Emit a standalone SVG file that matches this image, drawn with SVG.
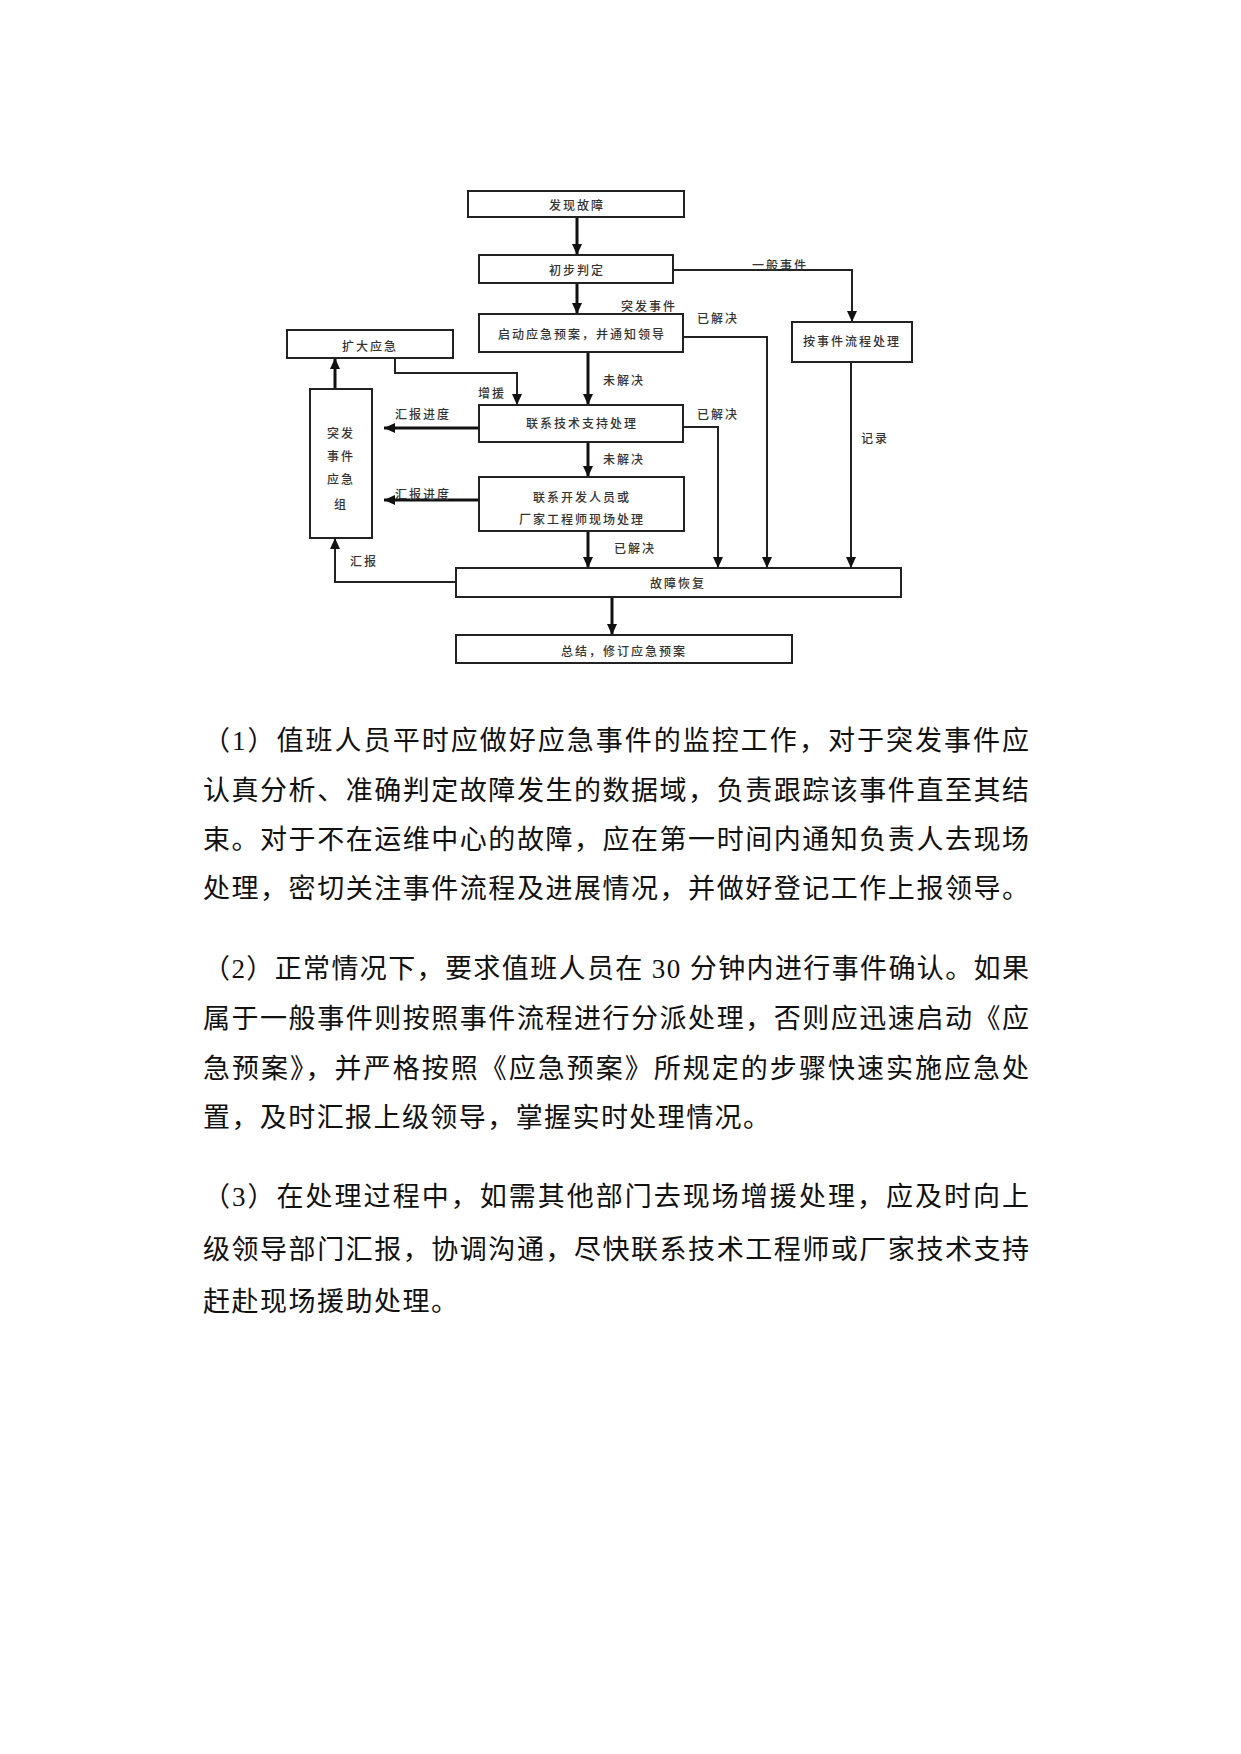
<svg xmlns="http://www.w3.org/2000/svg" width="1241" height="1754" viewBox="0 0 1241 1754">
<style>
.box{fill:#fff;stroke:#222;stroke-width:2}
.lbl{font-family:"Noto Sans CJK SC","Liberation Sans",sans-serif;font-size:12px;font-weight:500;fill:#333;text-anchor:middle;dominant-baseline:central;letter-spacing:2px}
.ar{fill:none;stroke:#111;stroke-width:3}
.ln{fill:none;stroke:#222;stroke-width:2}
.body{font-family:"Liberation Serif","Noto Sans CJK SC",serif;font-size:27px;fill:#111}
</style>
<defs>
<marker id="ah" markerUnits="userSpaceOnUse" markerWidth="12" markerHeight="12" viewBox="0 0 12 12" refX="11" refY="6" orient="auto">
<path d="M0,1 L11,6 L0,11 Z" fill="#111"/>
</marker>
</defs>
<rect width="1241" height="1754" fill="#fff"/>
<g id="connectors">
<path class="ar" d="M577,217 V255" marker-end="url(#ah)"/>
<path class="ar" d="M577,283 V314" marker-end="url(#ah)"/>
<path class="ln" d="M673,270 H852 V322" marker-end="url(#ah)"/>
<path class="ln" d="M683,337 H767 V568" marker-end="url(#ah)"/>
<path class="ar" d="M588,352 V405" marker-end="url(#ah)"/>
<path class="ln" d="M395,358 V373 H517 V405" marker-end="url(#ah)"/>
<path class="ar" d="M479,428 H384" marker-end="url(#ah)"/>
<path class="ln" d="M683,427 H718 V568" marker-end="url(#ah)"/>
<path class="ar" d="M588,442 V477" marker-end="url(#ah)"/>
<path class="ar" d="M479,500 H384" marker-end="url(#ah)"/>
<path class="ar" d="M588,531 V568" marker-end="url(#ah)"/>
<path class="ln" d="M851,362 V568" marker-end="url(#ah)"/>
<path class="ln" d="M456,582 H335 V538" marker-end="url(#ah)"/>
<path class="ar" d="M335,389 V358" marker-end="url(#ah)"/>
<path class="ar" d="M612,597 V635" marker-end="url(#ah)"/>
</g>
<g id="edge-labels">
<text class="lbl" x="649" y="305">突发事件</text>
<text class="lbl" x="780" y="264">一般事件</text>
<text class="lbl" x="718" y="317">已解决</text>
<text class="lbl" x="624" y="379">未解决</text>
<text class="lbl" x="492" y="392">增援</text>
<text class="lbl" x="423" y="413">汇报进度</text>
<text class="lbl" x="718" y="413">已解决</text>
<text class="lbl" x="624" y="458">未解决</text>
<text class="lbl" x="423" y="493">汇报进度</text>
<text class="lbl" x="635" y="547">已解决</text>
<text class="lbl" x="364" y="560">汇报</text>
<text class="lbl" x="875" y="437">记录</text>
</g>
<g id="n-faxian"><rect class="box" x="468" y="191" width="216" height="26"/><text class="lbl" x="577" y="204">发现故障</text></g>
<g id="n-chubu"><rect class="box" x="479" y="255" width="194" height="28"/><text class="lbl" x="577" y="269">初步判定</text></g>
<g id="n-qidong"><rect class="box" x="479" y="314" width="204" height="38"/><text class="lbl" x="582" y="333">启动应急预案，并通知领导</text></g>
<g id="n-kuoda"><rect class="box" x="287" y="330" width="166" height="28"/><text class="lbl" x="370" y="345">扩大应急</text></g>
<g id="n-anshijian"><rect class="box" x="792" y="322" width="120" height="40"/><text class="lbl" x="852" y="340">按事件流程处理</text></g>
<g id="n-yingjizu"><rect class="box" x="310" y="389" width="62" height="149"/>
<text class="lbl" x="341" y="432">突发</text><text class="lbl" x="341" y="455">事件</text><text class="lbl" x="341" y="478">应急</text><text class="lbl" x="341" y="503">组</text></g>
<g id="n-jishu"><rect class="box" x="479" y="405" width="204" height="37"/><text class="lbl" x="582" y="422">联系技术支持处理</text></g>
<g id="n-kaifa"><rect class="box" x="479" y="477" width="205" height="54"/><text class="lbl" x="582" y="496">联系开发人员或</text><text class="lbl" x="582" y="518">厂家工程师现场处理</text></g>
<g id="n-huifu"><rect class="box" x="456" y="568" width="445" height="29"/><text class="lbl" x="678" y="582">故障恢复</text></g>
<g id="n-zongjie"><rect class="box" x="456" y="635" width="336" height="28"/><text class="lbl" x="624" y="650">总结，修订应急预案</text></g>
<g id="body-text">
<text class="body" x="203" y="750" textLength="826" lengthAdjust="spacing">（1）值班人员平时应做好应急事件的监控工作，对于突发事件应</text>
<text class="body" x="203" y="800" textLength="826" lengthAdjust="spacing">认真分析、准确判定故障发生的数据域，负责跟踪该事件直至其结</text>
<text class="body" x="203" y="849" textLength="826" lengthAdjust="spacing">束。对于不在运维中心的故障，应在第一时间内通知负责人去现场</text>
<text class="body" x="203" y="898" textLength="826" lengthAdjust="spacing">处理，密切关注事件流程及进展情况，并做好登记工作上报领导。</text>
<text class="body" x="203" y="978" textLength="826" lengthAdjust="spacing">（2）正常情况下，要求值班人员在 30 分钟内进行事件确认。如果</text>
<text class="body" x="203" y="1028" textLength="826" lengthAdjust="spacing">属于一般事件则按照事件流程进行分派处理，否则应迅速启动《应</text>
<text class="body" x="203" y="1078" textLength="826" lengthAdjust="spacing">急预案》，并严格按照《应急预案》所规定的步骤快速实施应急处</text>
<text class="body" x="203" y="1127" textLength="567" lengthAdjust="spacing">置，及时汇报上级领导，掌握实时处理情况。</text>
<text class="body" x="203" y="1206" textLength="826" lengthAdjust="spacing">（3）在处理过程中，如需其他部门去现场增援处理，应及时向上</text>
<text class="body" x="203" y="1259" textLength="826" lengthAdjust="spacing">级领导部门汇报，协调沟通，尽快联系技术工程师或厂家技术支持</text>
<text class="body" x="203" y="1311" textLength="255" lengthAdjust="spacing">赶赴现场援助处理。</text>
</g>
</svg>
